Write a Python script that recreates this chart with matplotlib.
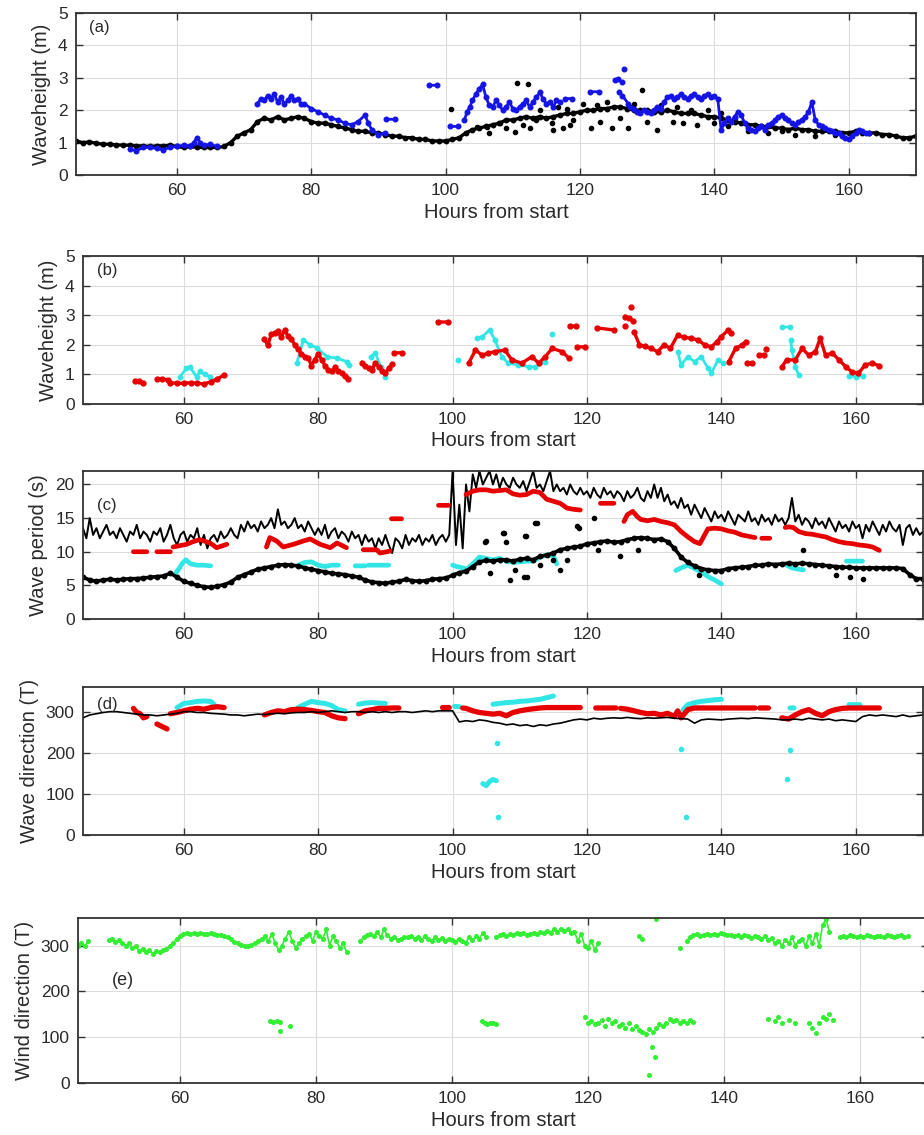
import numpy as np
import matplotlib
matplotlib.use("Agg")
import matplotlib.pyplot as plt

nan = float('nan')
plt.rcParams['font.family'] = ['Liberation Sans', 'DejaVu Sans']

# ---------------- data ----------------
# (a) measured wave height (black), hourly from 45 h
hs_black = [1.05, 1.0, 1.02, 0.98, 0.95, 0.95, 0.93, 0.92, 0.92, 0.9,
            0.9, 0.88, 0.9, 0.9, 0.92, 0.88, 0.85, 0.88, 0.85, 0.85,
            0.85, 0.85, 0.88, 1.0, 1.2, 1.3, 1.4, 1.65, 1.75, 1.7,
            1.8, 1.7, 1.75, 1.8, 1.75, 1.65, 1.6, 1.6, 1.55, 1.5,
            1.45, 1.4, 1.35, 1.35, 1.3, 1.3, 1.25, 1.2, 1.2, 1.15,
            1.15, 1.1, 1.1, 1.05, 1.05, 1.05, 1.1, 1.15, 1.3, 1.4,
            1.45, 1.5, 1.55, 1.6, 1.7, 1.7, 1.75, 1.8, 1.75, 1.8,
            1.75, 1.8, 1.85, 1.9, 1.9, 1.95, 2.0, 2.0, 2.05, 2.05,
            2.1, 2.1, 2.05, 2.0, 2.0, 2.0, 1.95, 1.95, 2.0, 1.95,
            1.9, 1.9, 1.9, 1.85, 1.8, 1.8, 1.75, 1.7, 1.65, 1.6,
            1.55, 1.55, 1.5, 1.5, 1.45, 1.45, 1.4, 1.45, 1.4, 1.4,
            1.35, 1.35, 1.35, 1.35, 1.3, 1.3, 1.35, 1.3, 1.3, 1.3,
            1.25, 1.25, 1.2, 1.15, 1.15, 1.2]
hs_black_sc_x = [100.8, 104.6, 106.1, 108.1, 110.3, 110.6, 112.3, 112.6, 114, 115.8, 116, 117.5,
                 118.5, 121.7, 124.7, 127.2, 129.2, 131.4, 133.8, 135.3, 137.4, 119, 123, 126, 130,
                 140, 142, 145, 148, 150, 152, 155, 158, 106.5, 109, 111.5, 113.5, 116.8, 118,
                 120.5, 122.5, 124, 128, 132, 134.5, 136.5, 139, 141, 143]
hs_black_sc_y = [2.05, 1.49, 1.49, 1.6, 1.34, 2.85, 2.81, 1.44, 2.0, 1.6, 1.39, 1.45,
                 1.55, 1.44, 1.44, 1.44, 2.62, 1.39, 1.64, 1.6, 1.55, 1.7, 1.65, 1.75, 1.65,
                 1.6, 1.5, 1.35, 1.3, 1.35, 1.25, 1.2, 1.25, 1.3, 1.45, 1.55, 1.7, 2.1, 2.05,
                 2.2, 2.15, 2.25, 2.2, 2.15, 2.1, 2.0, 2.0, 1.9, 1.75]

# (a) model wave height (blue)
hs_blue_x = [53, 54, 55, 56, 57, 58, 59, 60, 61, 62, 62.5, 63, 63.5, 64, 65, 66, nan,
             72, 72.5, 73, 73.5, 74, 74.5, 75, 75.5, 76, 76.5, 77, 77.5, 78, 78.5, 79, 80, 81, 82,
             83, 84, 85, 86, 87, 88, 88.5, 89, 90, 91, nan,
             91.2, 92.4, nan, 97.5, 98.7, nan, 100.7, 101.9, nan,
             102.8, 103.2, 103.6, 104, 104.5, 105, 105.5, 106, 106.5, 107, 107.5, 108, 108.5, 109,
             109.5, 110, 110.5, 111, 111.5, 112, 112.5, 113, 113.5, 114, 114.5, 115, 115.5, 116,
             116.5, 117, nan, 117.8, 118.8, nan, 121.5, 122.8, nan,
             125.2, 125.7, 126.2, nan, 126.6, nan, 125.8, 126.3, 127.2,
             127.5, 128, 128.5, 129, 129.5, 130, 130.5, 131, 131.5, 132, 132.5, 133, 133.5, 134,
             134.5, 135, 135.5, 136, 136.5, 137, 137.5, 138, 138.5, 139, 139.5, 140, 140.5,
             141, 141.5, 142, 142.5, 143, 143.5, 144, 144.5, 145, 145.5, 146, 146.5, 147, 147.5,
             148, 148.5, 149, 149.5, 150, 150.5, 151, 151.5, 152, 152.5, 153, 153.5, 154, 154.5,
             155, 155.5, 156, 156.5, 157, 157.5, 158, 158.5, 159, 159.5, 160, 160.5, 161, 161.5,
             162, 162.5, 163]
hs_blue_y = [0.8, 0.75, 0.85, 0.85, 0.82, 0.78, 0.85, 0.88, 0.92, 0.9, 1.0, 1.15, 1.0, 0.92, 0.95, 0.88, nan,
             2.2, 2.35, 2.3, 2.45, 2.35, 2.5, 2.25, 2.4, 2.2, 2.3, 2.45, 2.3, 2.35, 2.2, 2.2, 2.05, 1.95, 1.85,
             1.75, 1.7, 1.6, 1.55, 1.65, 1.85, 1.6, 1.4, 1.25, 1.3, nan,
             1.72, 1.72, nan, 2.77, 2.77, nan, 1.5, 1.5, nan,
             1.7, 1.95, 2.1, 2.3, 2.5, 2.65, 2.8, 2.4, 2.15, 2.1, 2.3, 2.15, 2.0, 2.1,
             2.25, 2.05, 2.0, 2.1, 2.2, 2.3, 2.1, 2.25, 2.4, 2.55, 2.35, 2.2, 2.25, 2.1,
             2.3, 2.25, nan, 2.36, 2.36, nan, 2.57, 2.57, nan,
             2.93, 2.95, 2.88, nan, 3.27, nan, 2.57, 2.45, 2.2,
             2.1, 2.05, 1.95, 1.9, 2.0, 1.95, 1.9, 2.0, 2.1, 2.05, 2.25, 2.4, 2.45, 2.35,
             2.4, 2.5, 2.4, 2.35, 2.45, 2.5, 2.4, 2.35, 2.45, 2.5, 2.4, 2.45, 2.35,
             1.4, 1.6, 1.75, 1.65, 1.8, 1.95, 1.85, 1.6, 1.45, 1.4, 1.35, 1.45, 1.5, 1.4,
             1.55, 1.6, 1.7, 1.8, 1.85, 1.75, 1.7, 1.6, 1.55, 1.65, 1.7, 1.8, 1.95, 2.25,
             1.7, 1.55, 1.5, 1.45, 1.4, 1.35, 1.3, 1.3, 1.2, 1.15, 1.1, 1.2, 1.3, 1.4,
             1.35, 1.3, 1.3]

# (b) partitioned wave heights
hs_red_x = [52.7, 53.3, 54.0, nan, 56.0, 56.8, 57.6, nan,
            58, 59, 60, 61, 62, 63, 64, 65, 66, nan,
            72, 72.5, 73, 73.5, 74, 74.5, 75, 75.5, 76, 76.5, 77, 77.5, 78, 78.5, 79, 79.5,
            80, 80.5, 81, 81.5, 82, 82.5, 83, 83.5, 84, 84.5, nan,
            86.5, 87, 87.5, 88, 88.5, 89, 89.5, 90, 90.5, 91, nan, 91.3, 92.4, nan, 97.8, 99.3, nan,
            102.4, 103.4, 104.4, 105.3, 106.3, 107.8, 108.8, 110.3, 111.8, 112.8, 113.8, 114.8,
            116.3, 117.3, nan, 117.4, 118.4, nan, 118.5, 119.7, nan, 121.5, 124, nan,
            125.6, nan, 125.7, 126.3, 126.9, nan, 126.5, nan, 127,
            127.8, 128.6, 129.5, 130.5, 131.5, 132.4, 133.5, 134.5, 135.5, 136.5, 137.5, 138.5,
            139.3, 140, 141, 141.5, nan, 141.1, 142.1, 143.1, 143.6, nan, 143.8, 144.6, nan,
            145.6, 146.3, nan, 146.7, nan,
            149, 149.7, 151, 152, 153, 154, 154.7, 155.5, 156.5, 157.5, 158.5, 159.4, 160.4,
            161.4, 162.4, 163.4]
hs_red_y = [0.78, 0.78, 0.72, nan, 0.84, 0.84, 0.82, nan,
            0.72, 0.7, 0.7, 0.72, 0.7, 0.68, 0.75, 0.85, 0.98, nan,
            2.2, 1.98, 2.35, 2.4, 2.45, 2.25, 2.5, 2.3, 2.2, 2.0, 1.85, 1.7, 1.6, 1.55, 1.3, 1.5,
            1.7, 1.5, 1.3, 1.15, 1.1, 1.25, 1.1, 1.05, 0.95, 0.85, nan,
            1.4, 1.3, 1.2, 1.15, 1.4, 1.25, 1.1, 1.05, 1.2, 1.35, nan, 1.73, 1.73, nan, 2.77, 2.77, nan,
            1.38, 1.82, 1.65, 1.72, 1.77, 1.82, 1.49, 1.38, 1.6, 1.38, 1.6, 1.88,
            1.77, 1.55, nan, 2.63, 2.63, nan, 1.93, 1.93, nan, 2.57, 2.5, nan,
            2.63, nan, 2.95, 2.9, 2.8, nan, 3.29, nan, 2.44,
            2.0, 1.95, 1.88, 1.77, 2.0, 1.88, 2.33, 2.25, 2.22, 2.17, 2.0, 1.93,
            2.1, 2.28, 2.5, 2.4, nan, 1.43, 1.88, 2.0, 2.1, nan, 1.37, 1.37, nan,
            1.65, 1.65, nan, 1.85, nan,
            1.26, 1.49, 1.49, 1.88, 1.65, 1.77, 2.22, 1.65, 1.72, 1.49, 1.26, 1.09, 1.04,
            1.32, 1.38, 1.3]
hs_cyan_x = [59.4, 60.4, 60.9, 61.9, 62.4, 63.2, 63.9, nan,
             76.8, 77.8, 78.8, 79.8, 81.3, 82.8, 84.3, 84.6, nan,
             87.8, 88.5, 89.3, 90.0, nan, 100.8, nan,
             103.6, 104.4, 105.5, 106.3, 107.3, 108.3, 109.8, 111.3, 112.3, 113.8, nan, 114.8, nan,
             133.5, 134, 135, 136, 137, 138, 138.5, 139.5, 140.3, nan,
             149.0, 150.2, nan, 150.3, 150.5, 151, 151.5, nan, 159, 160, 161]
hs_cyan_y = [0.92, 1.2, 1.25, 0.92, 1.1, 1.0, 0.92, nan,
             1.37, 2.16, 2.0, 1.89, 1.6, 1.55, 1.43, 1.32, nan,
             1.6, 1.72, 1.26, 0.92, nan, 1.49, nan,
             2.22, 2.27, 2.5, 2.16, 1.6, 1.38, 1.32, 1.26, 1.26, 1.43, nan, 2.36, nan,
             1.77, 1.32, 1.6, 1.43, 1.6, 1.21, 1.04, 1.49, 1.38, nan,
             2.6, 2.6, nan, 2.16, 1.82, 1.26, 0.98, nan, 0.95, 0.92, 0.95]

# (c) wave periods
tp_black = [13.5, 12.0, 15.0, 12.5, 13.5, 12.0, 13.0, 14.0, 12.5, 13.0,
            12.0, 13.5, 12.5, 11.5, 13.0, 12.5, 14.0, 12.0, 13.0, 12.5,
            11.5, 13.0, 12.5, 13.5, 11.5, 12.5, 14.0, 12.0, 11.0, 12.5,
            13.0, 11.5, 12.5, 12.0, 13.5, 11.0, 12.5, 10.5, 12.0, 12.5,
            11.5, 13.0, 12.0, 12.5, 13.5, 12.5, 12.0, 14.0, 13.0, 14.5,
            13.5, 14.0, 13.0, 14.5, 13.5, 14.0, 15.0, 13.5, 16.3, 14.0,
            14.5, 13.5, 14.0, 15.0, 13.5, 14.0, 13.0, 14.5, 13.5, 12.5,
            13.5, 12.5, 14.0, 12.0, 13.0, 13.5, 12.0, 13.0, 12.5, 11.5,
            13.0, 12.0, 12.5, 11.0, 12.5, 11.5, 12.0, 10.5, 12.0, 11.0,
            12.5, 11.0, 9.8, 12.0, 11.5, 10.5, 12.5, 11.0, 12.0, 11.5,
            12.5, 11.0, 12.0, 11.5, 12.5, 11.0, 12.0, 12.5, 11.5, 12.5,
            22.0, 11.0, 17.0, 10.5, 20.0, 16.0, 21.5, 19.5, 22.0, 20.0,
            21.0, 22.0, 20.0, 21.5, 19.5, 21.0, 20.0, 19.5, 21.0, 20.0,
            19.5, 20.5, 19.0, 20.5, 22.0, 19.5, 20.0, 19.0, 20.5, 22.0,
            19.0, 20.0, 19.0, 19.5, 18.5, 20.0, 19.0, 18.5, 19.5, 18.5,
            19.0, 18.0, 19.5, 18.5, 18.0, 19.5, 18.5, 19.0, 18.0, 19.0,
            18.5, 17.5, 19.0, 18.0, 18.5, 19.5, 18.0, 17.5, 19.0, 18.0,
            20.0, 18.0, 19.5, 17.5, 18.5, 17.0, 17.5, 16.5, 18.0, 16.5,
            17.0, 15.5, 17.0, 16.0, 15.0, 16.5, 15.5, 14.5, 16.0, 15.0,
            15.5, 14.5, 16.0, 15.0, 14.0, 15.5, 15.0, 14.5, 16.0, 14.5,
            15.0, 14.0, 15.5, 14.5, 15.0, 14.0, 15.5, 14.5, 15.0, 14.0,
            15.0, 18.0, 14.5, 15.5, 14.0, 15.0, 14.5, 13.5, 15.0, 14.0,
            14.5, 13.5, 15.0, 14.0, 13.0, 14.5, 13.5, 14.0, 13.0, 14.5,
            13.5, 14.0, 12.0, 14.0, 13.0, 14.5, 13.5, 12.5, 14.0, 13.0,
            14.5, 13.5, 13.0, 14.0, 11.0, 13.5, 14.0, 12.5, 13.5, 12.5,
            13.0]
tm_black = [6.2, 5.8, 5.6, 5.8, 5.9, 5.8, 5.9, 6.0, 6.0, 6.1,
            6.2, 6.3, 6.4, 6.8, 6.2, 5.6, 5.3, 5.0, 4.8, 4.7,
            4.9, 5.1, 5.5, 6.2, 6.6, 7.0, 7.4, 7.6, 7.8, 8.0,
            8.1, 8.0, 7.9, 7.6, 7.4, 7.2, 7.0, 6.8, 6.7, 6.6,
            6.4, 6.2, 5.8, 5.5, 5.4, 5.3, 5.5, 5.6, 5.9, 5.7,
            5.6, 5.7, 5.9, 6.0, 6.1, 6.5, 6.9, 7.1, 7.8, 8.5,
            8.7, 8.6, 8.8, 8.8, 8.6, 8.9, 9.0, 8.8, 9.3, 9.5,
            9.8, 10.3, 10.5, 10.7, 10.8, 11.2, 11.3, 11.5, 11.6, 11.4,
            11.5, 11.8, 12.0, 12.1, 12.0, 11.8, 11.9, 11.5, 10.5, 9.2,
            8.4, 7.9, 7.5, 7.3, 7.2, 7.2, 7.5, 7.6, 7.7, 7.8,
            8.0, 8.0, 8.2, 8.1, 8.2, 8.3, 8.2, 8.3, 8.2, 8.1,
            8.0, 7.9, 7.8, 7.7, 7.7, 7.6, 7.6, 7.6, 7.6, 7.6,
            7.6, 7.6, 7.5, 6.6, 6.0, 6.0]
tm_sc_x = [104.8, 107.5, 108, 110.8, 112.3, 111, 109.3, 115, 116, 117, 118.5, 121, 121.7,
           124.9, 127.6, 105.6, 113, 108.5, 110.6, 112.6, 107.6, 104.9, 110.9, 118.8,
           152.1, 157.1, 159.1, 161.1, 136.7]
tm_sc_y = [11.5, 12.8, 11.5, 12.3, 14.3, 6.3, 7.3, 8.8, 7.3, 8.8, 13.8, 15.0, 10.3,
           9.3, 10.3, 6.8, 8.0, 5.8, 6.3, 14.3, 12.8, 11.6, 12.3, 13.5,
           10.3, 6.6, 6.3, 6.0, 6.6]
tp_red_x = [52.5, 54.5, nan, 56, 58, nan, 58.4, 59.4, 60.4, 61.4, 62.4, 63.9, 64.9, 66.4, nan,
            72.3, 72.8, 73.8, 74.8, 76.3, 77.8, 78.8, 80.3, 81.8, 82.8, 84.2, nan,
            86.7, 88.7, 89.2, 90.7, nan, 90.9, 92.4, nan, 97.9, 99.4, nan,
            102, 103, 104, 105, 106, 107, 108, 109, 110, 111, 112, 113, 114, 115, 116, 117, 118, 119, nan,
            122, 124, nan,
            125.5, 126, 126.8, 127.5, 128, 129, 130, 131, 132, 133, 134, 135, 136, 136.8, 137.5,
            138, 139, 140, 141, 142, 143, 144, 145, nan, 146, 147.2, nan, 149.2, nan,
            149.5, 150, 150.7, 151.5, 152.5, 153.5, 154.5, 155.5, 156.5, 157.5, 158.5, 159.5,
            160.5, 161.5, 162.5, 163.5]
tp_red_y = [10.0, 10.0, nan, 10.0, 10.0, nan, 10.7, 10.9, 11.1, 11.5, 11.8, 11.3, 10.6, 11.1, nan,
            10.7, 12.1, 11.6, 10.7, 11.1, 11.6, 11.9, 11.1, 10.6, 11.3, 10.6, nan,
            10.3, 10.3, 9.8, 10.1, nan, 14.9, 14.9, nan, 16.9, 16.9, nan,
            18.5, 19.0, 19.2, 19.2, 19.0, 19.1, 19.2, 18.6, 18.4, 18.5, 19.0, 18.8, 17.8, 17.5, 17.2,
            16.5, 16.3, 16.2, nan,
            17.2, 17.2, nan,
            14.5, 15.5, 16.0, 15.2, 14.8, 14.6, 14.8, 14.5, 14.3, 14.0, 13.0, 12.2, 11.5, 11.2, 12.5,
            13.4, 13.5, 13.4, 13.1, 12.9, 12.5, 12.3, 12.1, nan, 12.0, 12.0, nan, 12.0, nan,
            13.6, 13.7, 13.6, 13.0, 12.7, 12.6, 12.4, 12.2, 11.8, 11.5, 11.3, 11.2,
            11.0, 10.9, 10.7, 10.2]
tp_cyan_x = [58.8, 59.3, 59.8, 60.3, 61, 62, 63, 64, nan,
             77, 78, 79, 80, 81, 82, 83, nan, 85.5, 87, nan, 87.5, 90.5, nan,
             100, 100.6, 101.5, 102.1, 103, 104, 105, 106, 107, 108, 109, 110, 111, 112, 113, 114,
             115, 115.5, nan,
             133.2, 134, 135, 136, 137, 138, 139, 140, nan, 149.7, 150.5, 151.5, 152.2, nan, 158.6, 161]
tp_cyan_y = [6.8, 7.5, 8.3, 8.8, 8.2, 8.0, 8.0, 7.9, nan,
             8.0, 8.4, 8.5, 8.0, 7.8, 8.0, 8.0, nan, 7.9, 7.9, nan, 8.0, 8.0, nan,
             8.0, 7.8, 7.6, 7.4, 8.2, 9.2, 9.0, 8.8, 9.0, 8.6, 8.4, 8.5, 8.6, 8.6, 9.2, 9.5,
             9.4, 8.2, nan,
             7.2, 7.6, 8.0, 7.5, 7.0, 6.3, 5.8, 5.2, nan, 8.0, 7.6, 7.4, 7.3, nan, 8.6, 8.6]

# (d) wave direction
dir_black = [285, 292, 295, 298, 300, 300, 298, 296, 294, 292,
             292, 290, 292, 294, 296, 300, 300, 298, 298, 296,
             295, 294, 292, 292, 290, 292, 294, 293, 295, 296,
             295, 297, 298, 298, 300, 298, 300, 302, 300, 298,
             300, 300, 298, 300, 298, 300, 298, 300, 300, 298,
             300, 302, 300, 302, 302, 302, 275, 278, 276, 280,
             278, 274, 272, 268, 270, 266, 268, 264, 268, 266,
             270, 272, 276, 280, 282, 280, 284, 282, 284, 285,
             284, 286, 284, 283, 285, 284, 285, 286, 284, 283,
             282, 272, 280, 282, 281, 280, 282, 283, 284, 283,
             285, 284, 283, 282, 280, 280, 282, 280, 284, 282,
             280, 282, 278, 280, 278, 276, 288, 292, 290, 292,
             290, 288, 292, 288, 290, 292]
dir_red_x = [52.5, 53, 53.5, 54, 54.5, nan, 54.6, nan, 56, 56.5, 57, 57.5, nan,
             58, 59, 60, 61, 62, 63, 64, 65, 66, nan,
             72, 73, 74, 75, 76, 77, 78, 79, 80, 81, 82, 83, 84, nan,
             86, 87, 88, 89, 90, 91, 92, nan, 98.5, 99.5, nan,
             101.5, 102, 103, 104, 105, 106, 107, 108, 109, 110, 111, 112, 113, 114, 115, 116,
             117, 118, 119, nan, 121.3, 124.3, nan,
             125, 126, 127, 128, 129, 130, 131, 132, 133, 133.5, 134, 135, 136, 137, 138, 139,
             140, 141, 142, 143, 144, 145, nan, 145.7, 147, nan,
             149, 150, 151, 152, 153, 154, 155, 156, 157, 158, 159, 160, 161, 162, 163, 163.5]
dir_red_y = [308, 298, 295, 285, 288, nan, 260, nan, 270, 266, 262, 258, nan,
             295, 298, 302, 306, 308, 306, 310, 312, 310, nan,
             292, 298, 302, 300, 305, 306, 305, 303, 300, 298, 290, 285, 283, nan,
             295, 302, 305, 308, 308, 309, 309, nan, 310, 310, nan,
             309, 308, 302, 298, 296, 294, 296, 290, 298, 302, 305, 307, 309, 310, 310, 310,
             310, 310, 310, nan, 309, 309, nan,
             308, 306, 302, 298, 295, 296, 292, 296, 288, 302, 285, 305, 309, 309, 309, 309,
             309, 309, 309, 309, 309, 309, nan, 309, 309, nan,
             285, 282, 292, 300, 305, 296, 290, 300, 305, 308, 309, 309, 309, 309, 309, 309]
dir_cyan_x = [59, 60, 61, 62, 63, 64, 64.5, nan,
              77, 78, 79, 80, 81, 82, 83, 84, nan, 86, 87, 88, 89, 90, nan, 100.3, 101, nan,
              106, 107, 108, 109, 110, 111, 112, 113, 114, 115, nan,
              104.5, 105, 105.5, 106, 106.5, nan,
              134.3, 135, 136, 137, 138, 139, 140, nan, 150.2, 150.8, nan, 159, 160.6]
dir_cyan_y = [310, 320, 322, 325, 326, 325, 318, nan,
              310, 318, 325, 322, 320, 315, 305, 302, nan, 318, 321, 322, 321, 320, nan, 313, 312, nan,
              318, 320, 322, 323, 325, 326, 328, 330, 334, 338, nan,
              125, 120, 130, 135, 132, nan,
              305, 317, 322, 325, 327, 329, 330, nan, 309, 309, nan, 317, 317]
dir_cyan_dot_x = [106.6, 106.8, 134.0, 134.8, 150.2, 149.7]
dir_cyan_dot_y = [225, 43, 209, 43, 206, 137]

# (e) wind direction, every half hour from 45 h
wind_main = [300, 305, 298, 310, nan, nan, nan, nan, nan, 312,
             315, 308, 312, 305, 300, 305, 295, 298, 288, 292,
             285, 290, 282, 288, 285, 290, 292, 300, 305, 315,
             320, 325, 328, 326, 327, 325, 328, 326, 325, 327,
             325, 322, 324, 320, 318, 315, 308, 305, 302, 300,
             298, 302, 305, 310, 315, 320, 310, 325, 305, 290,
             300, 315, 330, 310, 295, 305, 315, 320, 325, 310,
             330, 320, 315, 335, 300, 320, 310, 295, 305, 285,
             nan, nan, nan, 310, 318, 322, 325, 320, 330, 318,
             335, 322, 315, 318, 312, 315, 318, 318, 320, 315,
             318, 312, 320, 315, 310, 318, 312, 316, 310, 315,
             312, 308, 315, 310, 305, 318, 312, 320, 315, 327,
             318, nan, nan, 318, 322, 325, 320, 326, 324, 328,
             325, 327, 324, 326, 328, 325, 330, 327, 332, 328,
             335, 330, 336, 332, 335, 328, 330, 310, 325, 300,
             295, 310, 290, 305, nan, nan, nan, nan, nan, nan,
             nan, nan, nan, nan, nan, 320, 315, nan, nan, nan,
             357, nan, nan, nan, nan, nan, nan, 295, nan, 310,
             318, 322, 325, 320, 324, 326, 322, 325, 323, 328,
             325, 322, 324, 320, 323, 318, 322, 320, 316, 320,
             318, 315, 320, 312, 316, 305, 310, 300, 312, 305,
             318, 300, 310, 315, 298, 320, 305, 325, 300, 345,
             357, 330, nan, nan, 318, 320, 318, 322, 320, 318,
             320, 318, 322, 320, 318, 321, 320, 318, 322, 320,
             318, 320, 322, 318, 320, nan, nan, nan, nan, nan,
             nan]
wind_low_x = [73.2, 73.7, 74.2, 74.7, 74.7, 76.2,
              104.4, 104.8, 105.2, 105.6, 106.0, 106.5,
              119.5, 120, 120.5, 121, 121.5, 122, 122.5, 123, 123.5, 124, 124.5, 125, 125.5, 126,
              126.5, 127, 127.5, 128, 128.5, 129, 129.5, 130, 130.5, 131, 131.5, 132, 132.5, 133,
              133.5, 134, 134.5, 135, 135.5, 129.4, 129.8, 128.9,
              146.5, 147.5, 148, 148.5, 149.5, 150.5, 152.5, 153, 153.5, 154, 154.5, 155, 155.5, 156]
wind_low_y = [136, 134, 136, 133, 114, 124,
              135, 130, 128, 132, 130, 128,
              145, 130, 135, 128, 132, 138, 125, 140, 130, 135, 125, 128, 120, 132,
              118, 125, 115, 112, 108, 118, 112, 120, 128, 125, 132, 140, 135, 138,
              130, 135, 132, 138, 134, 78, 57, 17,
              140, 135, 145, 130, 138, 132, 130, 120, 110, 130, 145, 140, 150, 138]

# ---------------- figure ----------------
W, H = 924, 1135
fig = plt.figure(figsize=(W / 100, H / 100), dpi=100)

def box(l, t, r, b):
    return [l / W, 1 - b / H, (r - l) / W, (b - t) / H]

ax_a = fig.add_axes(box(76, 13, 916, 175))
ax_b = fig.add_axes(box(83, 256, 923, 404))
ax_c = fig.add_axes(box(83, 471, 923, 619))
ax_d = fig.add_axes(box(83, 687, 923, 835))
ax_e = fig.add_axes(box(78, 918, 928, 1083))

TXT = '#2a2a2a'

def style(ax, ylim, yticks, ylabel):
    ax.set_xlim(45, 170)
    ax.set_ylim(*ylim)
    ax.set_xticks([60, 80, 100, 120, 140, 160])
    ax.set_yticks(yticks)
    ax.grid(True, color='#dcdcdc', lw=0.8)
    ax.set_axisbelow(True)
    ax.tick_params(direction='in', top=True, right=True, length=5, width=1.0,
                   labelsize=12.5, pad=6, labelcolor=TXT, color='#333333')
    ax.set_xlabel('Hours from start', fontsize=14.5, labelpad=3, color=TXT)
    ax.set_ylabel(ylabel, fontsize=14.5, labelpad=5, color=TXT)
    for s in ax.spines.values():
        s.set_linewidth(1.3)
        s.set_color('#333333')

BLUE = '#1414e6'
RED = '#e60000'
CYAN = '#33e6e6'
GREEN = '#33ee33'

# (a)
x_hour = 45 + np.arange(len(hs_black))
ax_a.plot(x_hour, hs_black, '-o', color='k', lw=2.4, ms=3.2)
ax_a.plot(hs_black_sc_x, hs_black_sc_y, 'o', color='k', ms=3.0, lw=0)
ax_a.plot(hs_blue_x, hs_blue_y, '-o', color=BLUE, lw=2.0, ms=3.3)
style(ax_a, (0, 5), [0, 1, 2, 3, 4, 5], 'Waveheight (m)')
ax_a.text(47.0, 4.55, '(a)', fontsize=12, va='center', color=TXT)

# (b)
ax_b.plot(hs_cyan_x, hs_cyan_y, '-o', color=CYAN, lw=2.0, ms=3.2)
ax_b.plot(hs_red_x, hs_red_y, '-o', color=RED, lw=2.4, ms=3.5)
style(ax_b, (0, 5), [0, 1, 2, 3, 4, 5], 'Waveheight (m)')
ax_b.text(47.1, 4.5, '(b)', fontsize=12, va='center', color=TXT)

# (c)
x_half = 45 + 0.5 * np.arange(len(tp_black))
x_hour_c = 45 + np.arange(len(tm_black))
ax_c.plot(x_half, tp_black, '-', color='k', lw=1.4)
ax_c.plot(tp_red_x, tp_red_y, '-', color=RED, lw=3.4, solid_capstyle='round')
ax_c.plot(tp_cyan_x, tp_cyan_y, '-', color=CYAN, lw=3.4, solid_capstyle='round')
ax_c.plot(x_hour_c, tm_black, '-o', color='k', lw=2.6, ms=3.2)
ax_c.plot(tm_sc_x, tm_sc_y, 'o', color='k', ms=3.0, lw=0)
style(ax_c, (0, 22), [0, 5, 10, 15, 20], 'Wave period (s)')
ax_c.text(47.1, 16.9, '(c)', fontsize=12, va='center', color=TXT)

# (d)
x_hour_d = 45 + np.arange(len(dir_black))
ax_d.plot(dir_cyan_x, dir_cyan_y, '-', color=CYAN, lw=3.6, solid_capstyle='round')
ax_d.plot(dir_cyan_dot_x, dir_cyan_dot_y, 'o', color=CYAN, ms=3.0, lw=0)
ax_d.plot(dir_red_x, dir_red_y, '-', color=RED, lw=3.8, solid_capstyle='round')
ax_d.plot(x_hour_d, dir_black, '-', color='k', lw=1.2)
style(ax_d, (0, 360), [0, 100, 200, 300], 'Wave direction (T)')
ax_d.text(47.1, 318, '(d)', fontsize=12, va='center', color=TXT)

# (e)
x_half_e = 45 + 0.5 * np.arange(len(wind_main))
ax_e.plot(x_half_e, wind_main, '-o', color=GREEN, ms=2.6, lw=1.2)
ax_e.plot(wind_low_x, wind_low_y, 'o', color=GREEN, ms=2.6, lw=0)
style(ax_e, (0, 360), [0, 100, 200, 300], 'Wind direction (T)')
ax_e.text(50.0, 223, '(e)', fontsize=13, va='center', color=TXT)

fig.savefig('out.png', dpi=100)
